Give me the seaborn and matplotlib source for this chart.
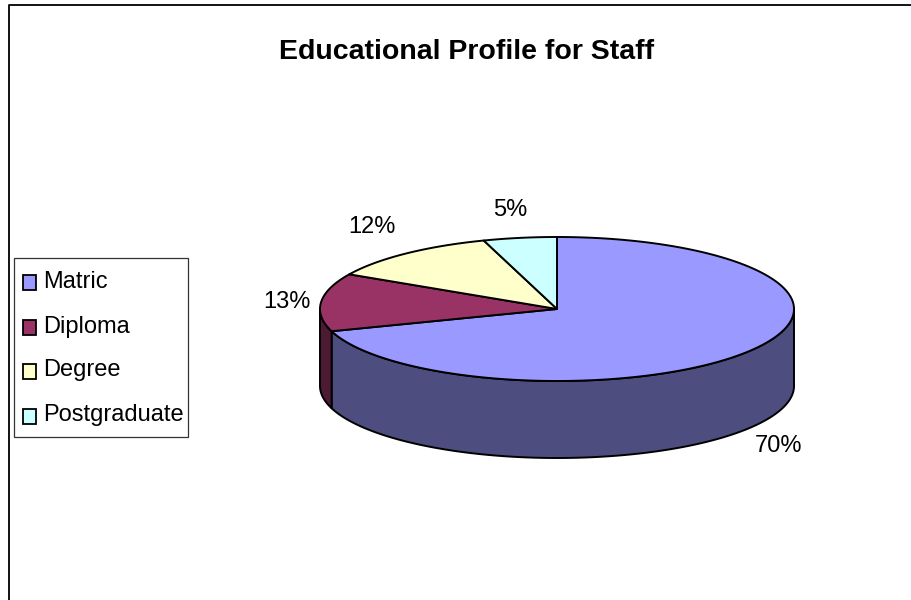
import numpy as np
import matplotlib
matplotlib.use("Agg")
import matplotlib.pyplot as plt
from matplotlib.patches import Rectangle
import seaborn as sns

categories = ["Matric", "Diploma", "Degree", "Postgraduate"]
values = [70, 13, 12, 5]
labels = ["70%", "13%", "12%", "5%"]
top_colors = ["#9999FF", "#993366", "#FFFFCC", "#CCFFFF"]
side_colors = ["#4D4D80", "#4D1A33", "#808066", "#668080"]
title = "Educational Profile for Staff"

sns.set_theme(style="white")
plt.rcParams["font.family"] = ["Liberation Sans", "DejaVu Sans"]

W, H = 911, 600
fig = plt.figure(figsize=(W / 100, H / 100), dpi=100, facecolor="white")
ax = fig.add_axes([0, 0, 1, 1])
ax.set_xlim(0, W)
ax.set_ylim(H, 0)
ax.axis("off")

# chart frame
ax.plot([8.5, 8.5, 911], [600, 5, 5], color="black", lw=1.3)
ax.text(467, 52, title, ha="center", va="center", fontsize=20.5, fontweight="bold", color="black")

cx, cy, rx, ry, depth = 557, 309, 237, 72, 77
fractions = np.array(values) / sum(values)
edges = np.pi / 2 - 2 * np.pi * np.concatenate([[0], np.cumsum(fractions)])


def rim(a0, a1):
    t = np.linspace(a0, a1, 400)
    return cx + rx * np.cos(t), cy - ry * np.sin(t)


# side walls (front half only, angles below the horizontal)
for i in range(len(values)):
    a0, a1 = edges[i], edges[i + 1]
    lo, hi = max(a1, -np.pi), min(a0, 0)
    if lo < hi:
        x, y = rim(hi, lo)
        ax.fill(np.r_[x, x[::-1]], np.r_[y, y[::-1] + depth],
                facecolor=side_colors[i], edgecolor="black", lw=1.4, joinstyle="round", zorder=2)

# top faces
for i in range(len(values)):
    x, y = rim(edges[i], edges[i + 1])
    ax.fill(np.r_[cx, x], np.r_[cy, y], facecolor=top_colors[i], edgecolor="black",
            lw=1.4, joinstyle="round", zorder=3)

# value labels
for text, px, py in zip(labels, [779, 287, 372, 510], [446, 302, 227, 210]):
    ax.text(px, py, text, ha="center", va="center", fontsize=17, color="black", zorder=5)

# legend
ax.add_patch(Rectangle((14, 258), 173.5, 178.5, facecolor="white", edgecolor="#333333", lw=0.9, zorder=4))
for name, color, py in zip(categories, top_colors, [282.5, 327.5, 371, 416]):
    ax.add_patch(Rectangle((23, py - 7.5), 13, 15, facecolor=color, edgecolor="black", lw=1.3, zorder=5))
    ax.text(43, py - 1, name, ha="left", va="center", fontsize=17, color="black", zorder=5)

fig.savefig("out.png", dpi=100)
